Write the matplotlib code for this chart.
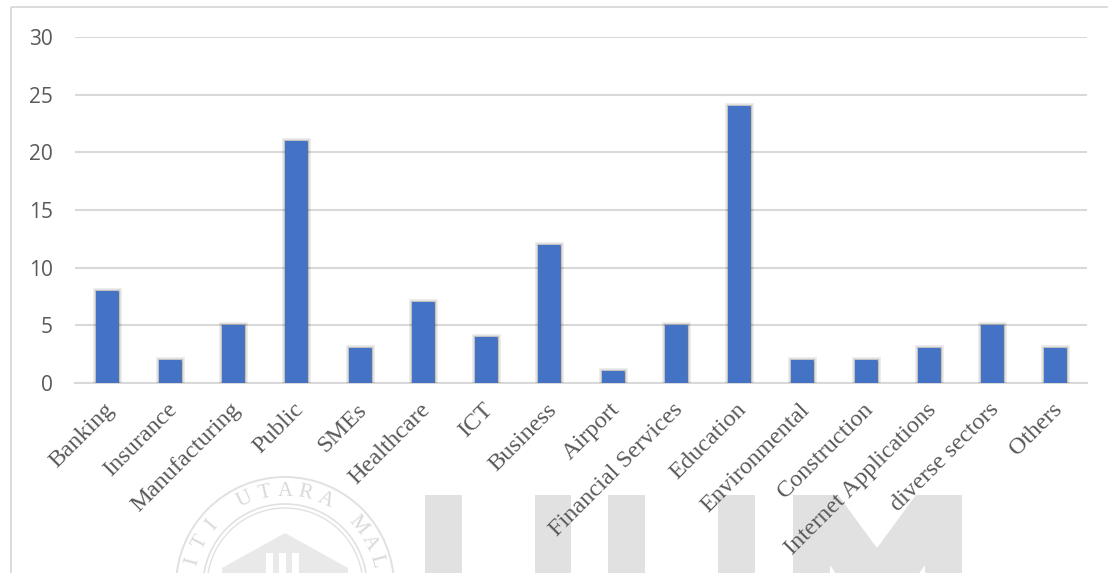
import numpy as np
import matplotlib
matplotlib.use("Agg")
import matplotlib.pyplot as plt
import matplotlib.patheffects as pe
from matplotlib.patches import Rectangle, Polygon, Circle
from matplotlib.transforms import ScaledTranslation

# Number of studies per sector
sectors = ["Banking", "Insurance", "Manufacturing", "Public", "SMEs", "Healthcare",
           "ICT", "Business", "Airport", "Financial Services", "Education",
           "Environmental", "Construction", "Internet Applications",
           "diverse sectors", "Others"]
counts = [8, 2, 5, 21, 3, 7, 4, 12, 1, 5, 24, 2, 2, 3, 5, 3]
y_ticks = [0, 5, 10, 15, 20, 25, 30]

W, H = 1108, 573
fig = plt.figure(figsize=(W / 100, H / 100), dpi=100)
fig.patch.set_facecolor("white")

# Background layer in pixel units: chart frame and the faint university seal
bg = fig.add_axes([0, 0, 1, 1], zorder=-1)
bg.set_xlim(0, W)
bg.set_ylim(H, 0)
bg.axis("off")

bg.add_patch(Rectangle((11, 7), W + 20, H + 20, fill=False,
                       edgecolor="#d9d9d9", linewidth=1.3))

wm = "#e1e1e1"
cx, cy = 285, 586
bg.add_patch(Circle((cx, cy), 109, fill=False, edgecolor=wm, linewidth=1.4))
bg.add_patch(Circle((cx, cy), 82, fill=False, edgecolor=wm, linewidth=1.2))
bg.add_patch(Circle((cx, cy), 78, fill=False, edgecolor=wm, linewidth=1.0))
seal_text = "UNIVERSITI UTARA MALAYSIA"
step = 12.5
mid = seal_text.index("UTARA") + 2
for i, ch in enumerate(seal_text):
    ang = 90 - (i - mid) * step
    r = 95
    x = cx + r * np.cos(np.radians(ang))
    y = cy - r * np.sin(np.radians(ang))
    if y > 562 or ch == " ":
        continue
    bg.text(x, y, ch, rotation=ang - 90, ha="center", va="center",
            fontsize=15, color="#d9d9d9", family="Liberation Serif")
# building roof and pillars inside the seal
bg.add_patch(Polygon([[222, 600], [222, 568], [285, 533], [348, 568], [348, 600]],
                     closed=True, facecolor="#e9e9e9", edgecolor="none"))
for px in (266, 279, 292):
    bg.add_patch(Rectangle((px, 553), 7, 40, facecolor="white", edgecolor="none"))

# large block letters
for x0, x1 in [(425, 462), (535, 571), (608, 645), (718, 755)]:
    bg.add_patch(Rectangle((x0, 495), x1 - x0, 120, facecolor=wm, edgecolor="none"))
bg.add_patch(Polygon([[793, 495], [838, 495], [877, 548], [916, 495], [962, 495],
                      [962, 640], [925, 640], [925, 565], [892, 612], [862, 612],
                      [830, 565], [830, 640], [793, 640]],
                     closed=True, facecolor=wm, edgecolor="none"))

# Main chart
ax = fig.add_axes([75 / W, 1 - 383 / H, (1087 - 75) / W, (383 - 37) / H], zorder=1)
ax.set_facecolor("none")

x = np.arange(len(sectors))
bars = ax.bar(x, counts, width=0.35, color="#4472c4", zorder=3)
for b in bars:
    b.set_path_effects([
        pe.Stroke(linewidth=5, foreground=(0, 0, 0, 0.07)),
        pe.Stroke(linewidth=2.5, foreground=(0, 0, 0, 0.18)),
        pe.Normal(),
    ])

ax.set_xlim(-0.5, len(sectors) - 0.5)
ax.set_ylim(0, 30)
ax.set_yticks(y_ticks)
ax.yaxis.grid(True, color="#d9d9d9", linewidth=1.5, zorder=0)
ax.set_axisbelow(True)
for s in ("top", "right", "left"):
    ax.spines[s].set_visible(False)
ax.spines["bottom"].set_color("#d9d9d9")
ax.spines["bottom"].set_linewidth(1.5)
ax.spines["bottom"].set_zorder(2)

ax.tick_params(axis="y", length=0, pad=16, labelsize=15, labelcolor="#595959")
for lbl in ax.get_yticklabels():
    lbl.set_family("Open Sans")

ax.set_xticks(x)
ax.set_xticklabels(sectors, rotation=45, ha="right", va="center",
                   rotation_mode="anchor", family="Liberation Serif",
                   fontsize=17.5, color="#595959")
ax.tick_params(axis="x", length=0, pad=17)
shift = ScaledTranslation(4 / 100, 0, fig.dpi_scale_trans)
for lbl in ax.get_xticklabels():
    lbl.set_transform(lbl.get_transform() + shift)

fig.savefig("out.png", dpi=100, facecolor="white")
